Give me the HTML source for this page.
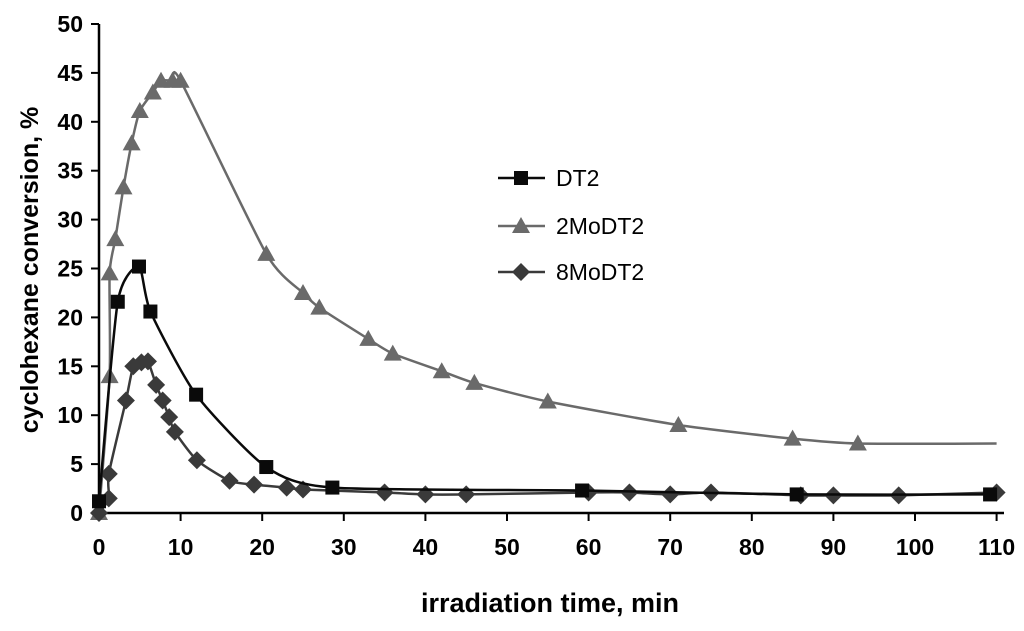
<!DOCTYPE html>
<html><head><meta charset="utf-8"><style>
body{margin:0;background:#fff;width:1024px;height:626px;overflow:hidden}
svg text{font-family:"Liberation Sans",Arial,sans-serif}
</style></head><body>
<svg id="chart" width="1024" height="626" xmlns="http://www.w3.org/2000/svg"></svg>
<script>
const xTicks=[0,10,20,30,40,50,60,70,80,90,100,110];
const yTicks=[0,5,10,15,20,25,30,35,40,45,50];
const dt2X=[0,2.3,4.9,6.3,11.9,20.5,28.6,59.2,85.5,109.2];
const dt2Y=[1.2,21.6,25.2,20.6,12.1,4.7,2.6,2.3,1.9,1.9];
const mo2X=[0,1.3,1.3,2.0,3.0,4.0,5.0,6.6,7.6,9.0,10.0,20.5,25,27,33,36,42,46,55,71,85,93,110];
const mo2Y=[0,14,24.5,28,33.3,37.8,41.1,43,44.2,44.2,44.2,26.5,22.5,21,17.8,16.3,14.5,13.3,11.4,9,7.6,7.1,7.1];
const mo2Marked=22;
const mo8X=[0,1.2,1.2,3.3,4.2,5.2,6.0,7.0,7.8,8.6,9.3,12,16,19,23,25,35,40,45,60,65,70,75,86,90,98,110];
const mo8Y=[0,1.5,4,11.5,15,15.4,15.5,13.1,11.5,9.8,8.3,5.4,3.3,2.9,2.6,2.4,2.1,1.9,1.9,2.1,2.1,1.9,2.1,1.8,1.8,1.8,2.1];
const X=v=>99+v*8.16, Y=v=>513-v*9.78;
const NS="http://www.w3.org/2000/svg", svg=document.getElementById('chart');
function mk(t,a,p){const e=document.createElementNS(NS,t);for(const k in a)e.setAttribute(k,a[k]);(p||svg).appendChild(e);return e;}
let ax=mk('line',{x1:99,y1:513,x2:1004,y2:513,stroke:'#000','stroke-width':2.5});

let ay=mk('line',{x1:99,y1:24,x2:99,y2:513,stroke:'#000','stroke-width':2.5});

xTicks.forEach(v=>{
 mk('line',{x1:X(v),y1:513,x2:X(v),y2:521,stroke:'#000','stroke-width':2});
 let t=mk('text',{x:X(v),y:555,'text-anchor':'middle','font-size':23,'font-weight':'bold'});t.textContent=v;
 
});
yTicks.forEach(v=>{
 mk('line',{x1:91,y1:Y(v),x2:99,y2:Y(v),stroke:'#000','stroke-width':2});
 let t=mk('text',{x:83,y:Y(v)+8,'text-anchor':'end','font-size':23,'font-weight':'bold'});t.textContent=v;
 
});
let xt=mk('text',{x:550,y:612,'text-anchor':'middle','font-size':27,'font-weight':'bold'});xt.textContent='irradiation time, min';

let yt=mk('text',{x:0,y:0,'text-anchor':'middle','font-size':25,'font-weight':'bold',transform:'translate(38,270) rotate(-90)'});yt.textContent='cyclohexane conversion, %';

function smooth(pts){let d='M'+pts[0][0]+','+pts[0][1];const k=9;
 for(let i=0;i<pts.length-1;i++){const p0=pts[i-1]||pts[i],p1=pts[i],p2=pts[i+1],p3=pts[i+2]||p2;
  d+=' C'+(p1[0]+(p2[0]-p0[0])/k)+','+(p1[1]+(p2[1]-p0[1])/k)+' '+(p2[0]-(p3[0]-p1[0])/k)+','+(p2[1]-(p3[1]-p1[1])/k)+' '+p2[0]+','+p2[1];}
 return d;}
function marker(type,x,y,col,g){
 if(type==='sq')return mk('rect',{x:x-7,y:y-7,width:14,height:14,fill:col},g);
 if(type==='tri')return mk('polygon',{points:`${x},${y-9} ${x+9},${y+7} ${x-9},${y+7}`,fill:col},g);
 return mk('polygon',{points:`${x},${y-9} ${x+9},${y} ${x},${y+9} ${x-9},${y}`,fill:col},g);
}
function series(name,xs,ys,col,w,type,nMark){
 const g=mk('g',{});
 const pts=xs.map((v,i)=>[X(v),Y(ys[i])]);
 mk('path',{d:smooth(pts),fill:'none',stroke:col,'stroke-width':w},g);
 pts.slice(0,nMark||pts.length).forEach(p=>{const m=marker(type,p[0],p[1],col,g);});
}
series('2modt2',mo2X,mo2Y,'#6a6a6a',2.5,'tri',mo2Marked);
series('8modt2',mo8X,mo8Y,'#3a3a3a',2.5,'dia');
series('dt2',dt2X,dt2Y,'#0a0a0a',2.5,'sq');
const leg=[['DT2','#0a0a0a','sq',178],['2MoDT2','#6a6a6a','tri',226],['8MoDT2','#3a3a3a','dia',272]];
leg.forEach(l=>{const g=mk('g',{});
 mk('line',{x1:498,y1:l[3],x2:545,y2:l[3],stroke:l[1],'stroke-width':2.5},g);marker(l[2],521,l[3],l[1],g);
 const t=mk('text',{x:556,y:l[3]+8,'font-size':23},g);t.textContent=l[0];});
</script>
</body></html>
